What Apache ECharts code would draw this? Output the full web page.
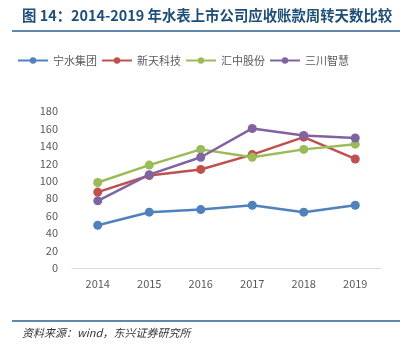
<!DOCTYPE html>
<html>
<head>
<meta charset="utf-8">
<script src="https://cdn.jsdelivr.net/npm/echarts@6/dist/echarts.min.js"></script>
<style>
  html, body { margin: 0; padding: 0; background: #fff; }
  #main { width: 403px; height: 351px; }
</style>
</head>
<body>
<div id="main"></div>
<script>
// 年份与各公司应收账款周转天数
var years = ['2014', '2015', '2016', '2017', '2018', '2019'];
var ningshui = [49, 64, 67, 72, 64, 72];
var xintian = [87, 106, 113, 130, 150, 125];
var huizhong = [98, 118, 136, 127, 136, 142];
var sanchuan = [77, 107, 127, 160, 152, 149];
var yTicks = [0, 20, 40, 60, 80, 100, 120, 140, 160, 180];

var chart = echarts.init(document.getElementById('main'), null, { renderer: 'canvas' });

function makeLine(name, data, color) {
  return {
    name: name,
    type: 'line',
    data: data,
    symbol: 'circle',
    symbolSize: 9,
    lineStyle: { color: color, width: 2.5 },
    itemStyle: { color: color },
    emphasis: { disabled: true }
  };
}

var option = {
  backgroundColor: '#ffffff',
  animation: false,
  textStyle: { fontFamily: '"Noto Sans CJK SC", "Noto Sans", sans-serif' },
  legend: {
    top: 50,
    left: 12,
    itemWidth: 30,
    itemHeight: 8,
    itemGap: 4,
    textStyle: { color: '#595959', fontSize: 11 },
    data: ['宁水集团', '新天科技', '汇中股份', '三川智慧']
  },
  grid: { left: 72, right: 22, top: 111, bottom: 83 },
  xAxis: {
    type: 'category',
    data: years,
    axisLine: { lineStyle: { color: '#d9d9d9', width: 1 } },
    axisTick: { show: false },
    axisLabel: { color: '#595959', fontSize: 11, margin: 10 }
  },
  yAxis: {
    type: 'value',
    min: yTicks[0],
    max: yTicks[yTicks.length - 1],
    interval: 20,
    axisLine: { show: false },
    axisTick: { show: false },
    splitLine: { show: false },
    axisLabel: { color: '#595959', fontSize: 11, margin: 14 }
  },
  series: [
    makeLine('宁水集团', ningshui, '#4F81BD'),
    makeLine('新天科技', xintian, '#C0504D'),
    makeLine('汇中股份', huizhong, '#9BBB59'),
    makeLine('三川智慧', sanchuan, '#8064A2')
  ],
  graphic: [
    {
      type: 'text',
      left: 22,
      top: 8,
      style: {
        text: '图 14：2014-2019 年水表上市公司应收账款周转天数比较',
        fill: '#1F4E79',
        font: 'bold 14.4px "Noto Sans CJK SC", sans-serif'
      }
    },
    {
      type: 'line',
      shape: { x1: 12, y1: 31, x2: 400, y2: 31 },
      style: { stroke: '#2E5F8E', lineWidth: 1.5 }
    },
    {
      type: 'line',
      shape: { x1: 12, y1: 321, x2: 400, y2: 321 },
      style: { stroke: '#2E5F8E', lineWidth: 1.5 }
    },
    {
      type: 'text',
      left: 22,
      top: 327,
      style: {
        text: '资料来源：wind，东兴证券研究所',
        fill: '#333333',
        font: 'italic 11px "Noto Sans CJK SC", sans-serif'
      }
    }
  ]
};

chart.setOption(option);
</script>
</body>
</html>
